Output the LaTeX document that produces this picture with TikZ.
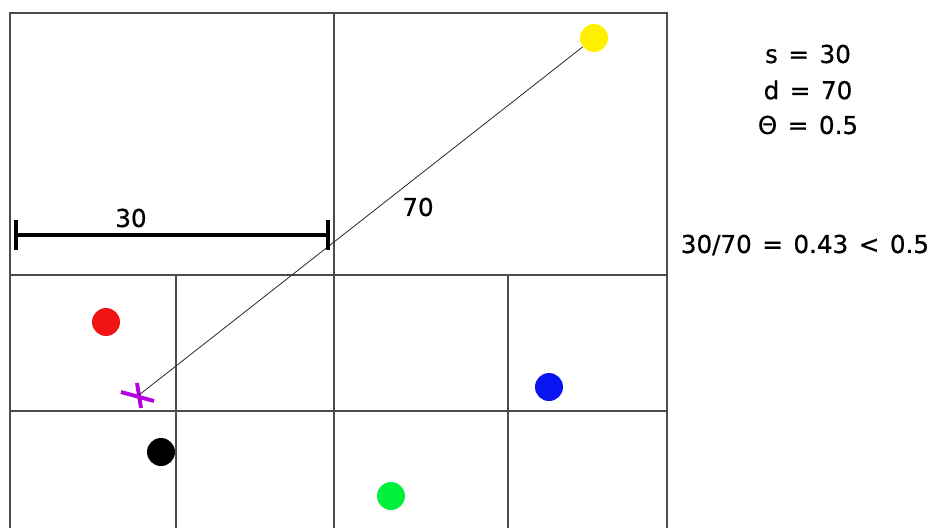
\documentclass[tikz,border=0pt]{standalone}
\usepackage{fontspec}
\setmainfont{DejaVu Sans}[FakeBold=0.6, WordSpace=1.35]
\usepackage{tikz}
\usetikzlibrary{calc}

\definecolor{dotred}{RGB}{240,20,20}
\definecolor{dotblue}{RGB}{10,20,240}
\definecolor{dotgreen}{RGB}{0,240,60}
\definecolor{dotyellow}{RGB}{255,240,0}
\definecolor{crossviolet}{RGB}{180,0,225}

\begin{document}
\begin{tikzpicture}[
    x=0.02cm, y=-0.02cm,
    dot/.style={circle, minimum size=0.56cm, inner sep=0pt},
    grid/.style={draw=black!70, line width=0.6pt},
    ray/.style={draw=black!85, line width=0.45pt},
    bar/.style={line width=2.8pt},
    lbl/.style={font=\fontsize{14}{17}\selectfont, inner sep=0pt}
]
    \useasboundingbox (0,0) rectangle (938,528);
    % cells
    \draw[grid] (10,528) -- (10,13) -- (667,13) -- (667,528);
    \draw[grid] (334,13) -- (334,528);
    \draw[grid] (10,275) -- (667,275);
    \draw[grid] (10,411) -- (667,411);
    \draw[grid] (176,275) -- (176,528);
    \draw[grid] (508,275) -- (508,528);

    % points
    \node[dot, fill=dotyellow] (y) at (594,38) {};
    \node[dot, fill=dotred] (r) at (106,322) {};
    \node[dot, fill=dotblue] (b) at (549,387) {};
    \node[dot, fill=black] (k) at (161,452) {};
    \node[dot, fill=dotgreen] (g) at (391,496) {};
    \coordinate (x) at (139,395);
    \draw[crossviolet, line width=2.2pt] ($(x)+(-18,-3)$) -- ($(x)+(15,6)$);
    \draw[crossviolet, line width=2.2pt] ($(x)+(-2,-12)$) -- ($(x)+(2,13)$);
    \draw[ray] (x) -- (y);
    \node[lbl] at (418,207) {70};

    % width s
    \coordinate (s0) at (16,235);
    \coordinate (s1) at (328,235);
    \draw[bar] (s0) -- (s1);
    \draw[bar] ($(s0)+(0,-15)$) -- ($(s0)+(0,15)$);
    \draw[bar] ($(s1)+(0,-15)$) -- ($(s1)+(0,15)$);
    \node[lbl] at (131,218) {30};

    \node[lbl] (ps) at (808,54) {s = 30};
    \node[lbl] (pd) at (808,90) {d = 70};
    \node[lbl] (pt) at (808,125) {Θ = 0.5};
    \node[lbl] (ratio) at (805,245) {30/70 = 0.43 < 0.5};
\end{tikzpicture}
\end{document}
